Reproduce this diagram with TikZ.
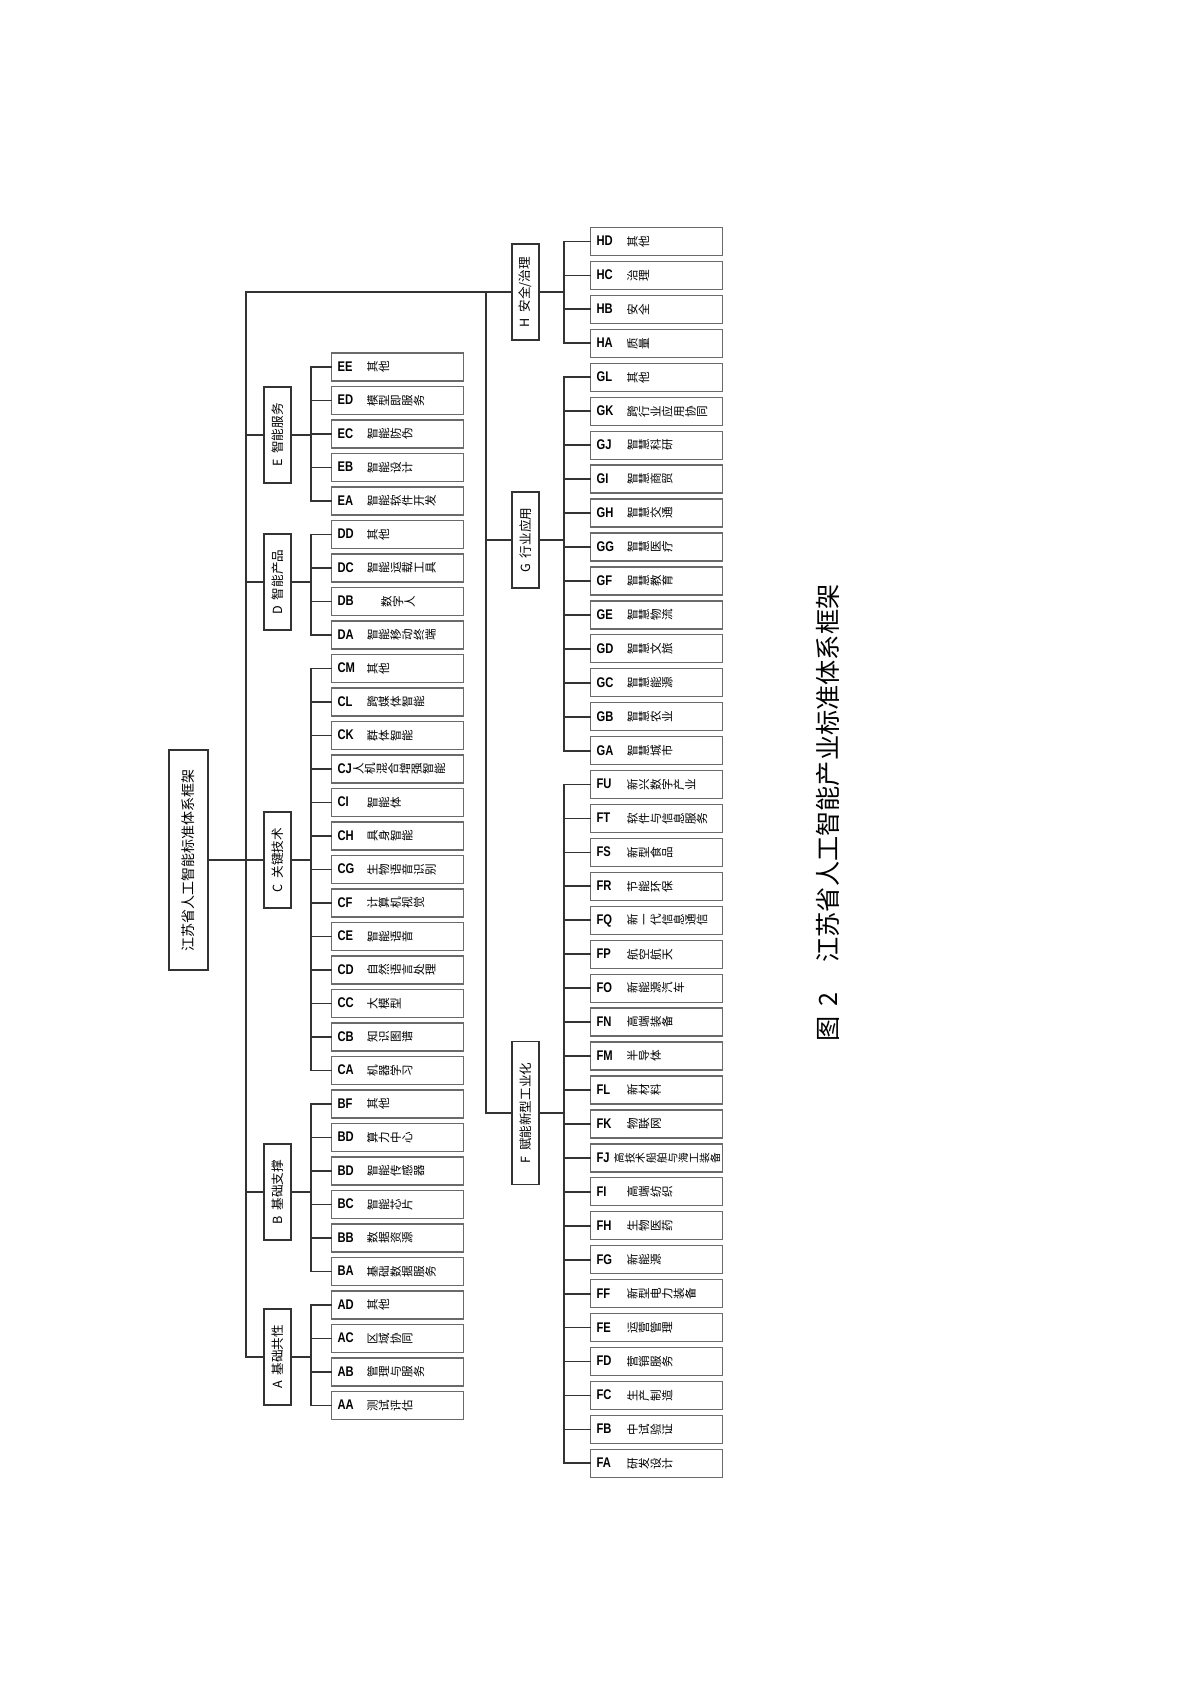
\documentclass[tikz,border=0pt]{standalone}
\usepackage{fontspec}
\setmainfont{Noto Sans CJK SC}
\newfontfamily\codefont{Liberation Sans}[FakeStretch=0.8]
\definecolor{linegray}{HTML}{333333}
\definecolor{boxgray}{HTML}{6A6A6A}
\newsavebox\leafsave
\newlength\leafroom
\makeatletter
\newcommand\vtext[1]{\edef\vlist{#1}\expandafter\vtextloop\expandafter{\vlist}}
\newcommand\vtextloop[1]{\@tfor\vch:=#1\do{\rotatebox[origin=c]{90}{\makebox[1em]{\rule[-0.12em]{0pt}{1em}\vch}}}}
\makeatother
\newcommand\leaftext[3]{%
  \makebox[66pt][l]{\makebox[#3pt][l]{\hspace{3pt}\codefont\bfseries\fontsize{7}{7}\selectfont #1}%
  \sbox\leafsave{\fontsize{5.8}{6}\selectfont\vtext{#2}}%
  \setlength\leafroom{\dimexpr65pt-#3pt\relax}%
  \ifdim\wd\leafsave>\leafroom\resizebox{\leafroom}{!}{\usebox\leafsave}\else\usebox\leafsave\fi}}
\newcommand\catlabel[2]{#1\hspace{0.45em}#2}
\tikzset{
    leaf/.style={draw=boxgray, line width=0.65pt, minimum width=66pt, minimum height=14pt, inner sep=0pt, anchor=west},
    cat/.style={draw=linegray, line width=0.75pt, rotate=90, minimum width=48pt, minimum height=13.5pt, inner sep=1pt, font=\fontsize{6.3}{7}\selectfont},
    rootbox/.style={draw=linegray, line width=0.75pt, rotate=90, minimum width=110pt, minimum height=19.5pt, inner sep=1pt, font=\fontsize{7}{8}\selectfont},
    conn/.style={draw=linegray, line width=0.9pt, line cap=rect}
}
\begin{document}
\begin{tikzpicture}[x=0.5pt, y=-0.5pt]
  \useasboundingbox[fill=white] (0,0) rectangle (1189,1683);
  % root and categories
  \node [rootbox] (root) at (188.5,860) {江苏省人工智能标准体系框架};
  \node [cat] (E) at (277.5,435) {\catlabel{E}{智能服务}};
  \node [cat] (D) at (277.5,582) {\catlabel{D}{智能产品}};
  \node [cat] (C) at (277.5,860) {\catlabel{C}{关键技术}};
  \node [cat] (B) at (277.5,1192) {\catlabel{B}{基础支撑}};
  \node [cat] (A) at (277.5,1357) {\catlabel{A}{基础共性}};
  \node [cat] (H) at (525.5,292) {\catlabel{H}{安全/治理}};
  \node [cat] (G) at (525.5,540) {\catlabel{G}{行业应用}};
  \node [cat, minimum width=71.5pt] (F) at (525.5,1113) {\catlabel{F}{赋能新型工业化}};
  % left leaves
  \foreach \code/\txt/\off [count=\i from 0] in {EE/其他/17.5, ED/模型即服务/17.5, EC/智能防伪/17.5, EB/智能设计/17.5, EA/智能软件开发/17.5,
      DD/其他/17.5, DC/智能运载工具/17.5, DB/数字人/24.5, DA/智能移动终端/17.5,
      CM/其他/17.5, CL/跨媒体智能/17.5, CK/群体智能/17.5, CJ/人机混合增强智能/10.5, CI/智能体/17.5, CH/具身智能/17.5,
      CG/生物语音识别/17.5, CF/计算机视觉/17.5, CE/智能语音/17.5, CD/自然语言处理/17.5, CC/大模型/17.5, CB/知识图谱/17.5, CA/机器学习/17.5,
      BF/其他/17.5, BD/算力中心/17.5, BD/智能传感器/17.5, BC/智能芯片/17.5, BB/数据资源/17.5, BA/基础数据服务/17.5,
      AD/其他/17.5, AC/区域协同/17.5, AB/管理与服务/17.5, AA/测试评估/17.5} {
    \node [leaf] (L\i) at (331,{367+33.5*\i}) {\leaftext{\code}{\txt}{\off}};
    \coordinate (bL\i) at ([xshift=-10pt]L\i.west);
    \draw [conn] (bL\i) -- (L\i.west);
  }
  % right leaves
  \foreach \code/\txt/\off [count=\i from 0] in {HD/其他/18, HC/治理/18, HB/安全/18, HA/质量/18,
      GL/其他/18, GK/跨行业应用协同/18, GJ/智慧科研/18, GI/智慧商贸/18, GH/智慧交通/18, GG/智慧医疗/18,
      GF/智慧教育/18, GE/智慧物流/18, GD/智慧文旅/18, GC/智慧能源/18, GB/智慧农业/18, GA/智慧城市/18,
      FU/新兴数字产业/18, FT/软件与信息服务/18, FS/新型食品/18, FR/节能环保/18, FQ/新一代信息通信/18, FP/航空航天/18,
      FO/新能源汽车/18, FN/高端装备/18, FM/半导体/18, FL/新材料/18, FK/物联网/18, FJ/高技术船舶与海工装备/11.5,
      FI/高端纺织/18, FH/生物医药/18, FG/新能源/18, FF/新型电力装备/18, FE/运营管理/18, FD/营销服务/18,
      FC/生产制造/18, FB/中试验证/18, FA/研发设计/18} {
    \node [leaf] (R\i) at (590,{241.5+33.94*\i}) {\leaftext{\code}{\txt}{\off}};
    \coordinate (bR\i) at ([xshift=-13pt]R\i.west);
    \draw [conn] (bR\i) -- (R\i.west);
  }
  % trunks
  \coordinate (trunkL) at (246,292);
  \coordinate (trunkR) at (486,292);
  \draw [conn] (root.south) -- (root.south -| trunkL);
  \draw [conn] (trunkL |- A.north) -- (trunkL) -- (H.north);
  \draw [conn] (trunkR) -- (trunkR |- F.north) -- (F.north);
  \draw [conn] (G.north -| trunkR) -- (G.north);
  \foreach \c/\a/\b in {E/0/4, D/5/8, C/9/21, B/22/27, A/28/31} {
    \draw [conn] (bL\a) -- (bL\b);
    \draw [conn] (\c.south) -- (\c.south -| bL\a);
    \draw [conn] (\c.north) -- (\c.north -| trunkL);
  }
  \foreach \c/\a/\b in {H/0/3, G/4/15, F/16/36} {
    \draw [conn] (bR\a) -- (bR\b);
    \draw [conn] (\c.south) -- (\c.south -| bR\a);
  }
  % caption
  \node [rotate=90, anchor=west, inner sep=0pt, font=\fontsize{12.6}{14}\selectfont] (title) at (828,1042) {图\hspace{5pt}2\hspace{15pt}江苏省人工智能产业标准体系框架};
\end{tikzpicture}
\end{document}
